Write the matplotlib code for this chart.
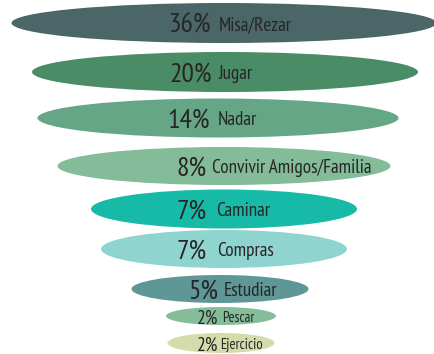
import matplotlib.pyplot as plt
from matplotlib.patches import Ellipse
from matplotlib import font_manager

# activity share, top to bottom
actividades = ["Misa/Rezar", "Jugar", "Nadar", "Convivir Amigos/Familia", "Caminar",
               "Compras", "Estudiar", "Pescar", "Ejercicio"]
porcentajes = [36, 20, 14, 8, 7, 7, 5, 2, 2]
colores = ["#4b6666", "#4a8c66", "#64a686", "#84bb99", "#17b9a7",
           "#8fd4cf", "#5f9797", "#85bd9a", "#d2ddab"]

# layout of the funnel (pixel units)
anchos = [425, 386, 361, 333, 266, 246, 177, 110, 107]
altos = [40, 40, 39, 38, 39, 38, 28, 18, 20]
centros_x = [224, 225, 218, 224, 224, 224, 220, 221, 221]
centros_y = [23, 72, 118, 166, 209, 249, 289, 316, 343]
corte_x = [211, 212, 210, 207, 207, 207, 218, 218, 218]
sep = [8, 7, 8, 5, 9, 10, 6, 4, 2]
tam_pct = [20, 20, 20, 20, 20, 20, 20, 14, 14]
tam_lbl = [13.8, 13.8, 13.8, 13.8, 13.8, 13.8, 13.8, 10.5, 10.5]

nombres = {f.name for f in font_manager.fontManager.ttflist}
fuente = ["PT Sans Narrow", "Open Sans Condensed", "DejaVu Sans"]
fuente = [f for f in fuente if f in nombres] or ["DejaVu Sans"]
plt.rcParams["font.family"] = fuente

fig = plt.figure(figsize=(4.35, 3.54), dpi=100)
ax = fig.add_axes([0, 0, 1, 1])
ax.set_xlim(0, 435)
ax.set_ylim(354, 0)
ax.axis("off")

for i, act in enumerate(actividades):
    ax.add_patch(Ellipse((centros_x[i], centros_y[i]), anchos[i], altos[i],
                         facecolor=colores[i], edgecolor="none"))
    ax.text(corte_x[i], centros_y[i] + 3, f"{porcentajes[i]}%", ha="right", va="center",
            fontsize=tam_pct[i], color="#262626")
    ax.text(corte_x[i] + sep[i], centros_y[i] + 2, act, ha="left", va="center",
            fontsize=tam_lbl[i], color="#262626")

fig.savefig("out.png", dpi=100)
